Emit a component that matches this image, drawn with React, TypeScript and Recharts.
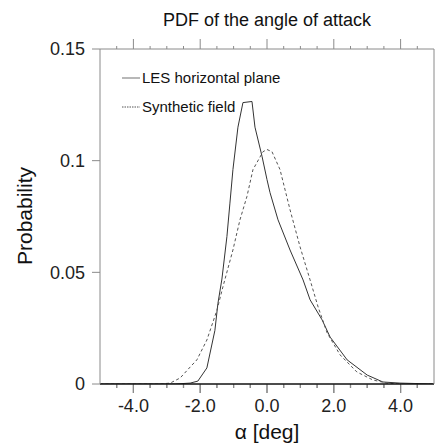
import React from 'react';
import { LineChart, Line, XAxis, YAxis, Legend, ReferenceLine } from 'recharts';

const lesAlpha = [-5, -3.5, -2.75, -2.3, -2.07, -1.8, -1.56, -1.47, -1.35, -1.2, -1.11, -1.02, -0.87, -0.72, -0.45, -0.36, -0.15, 0, 0.09, 0.33, 0.69, 1.08, 1.29, 1.65, 1.89, 2.4, 3.0, 3.47, 3.98, 5];
const lesPdf = [0, 0, 0, 0.0004, 0.0013, 0.0072, 0.024, 0.036, 0.047, 0.066, 0.081, 0.096, 0.115, 0.126, 0.1265, 0.115, 0.102, 0.0915, 0.0857, 0.0735, 0.06, 0.0466, 0.0377, 0.0287, 0.021, 0.0108, 0.004, 0.0009, 0.0004, 0];

const synAlpha = [-5, -3.2, -2.9, -2.6, -2.3, -2.1, -1.8, -1.5, -1.32, -1.02, -0.81, -0.6, -0.42, -0.12, 0, 0.15, 0.39, 0.69, 0.99, 1.29, 1.53, 1.8, 2.19, 2.69, 3.17, 3.59, 4, 5];
const synPdf = [0, 0, 0.0004, 0.0027, 0.0076, 0.0108, 0.0197, 0.033, 0.0435, 0.06, 0.0735, 0.084, 0.096, 0.104, 0.105, 0.104, 0.096, 0.078, 0.0614, 0.0466, 0.0345, 0.0229, 0.013, 0.0054, 0.0018, 0.0004, 0, 0];

const xMajorTicks = [-4, -2, 0, 2, 4];
const xAllTicks = [-4.5, -4, -3.5, -3, -2.5, -2, -1.5, -1, -0.5, 0, 0.5, 1, 1.5, 2, 2.5, 3, 3.5, 4, 4.5];
const yTicks = [0, 0.05, 0.1, 0.15];

const seriesNames = ['LES horizontal plane', 'Synthetic field'];
const title = 'PDF of the angle of attack';
const xLabel = 'α [deg]';
const yLabel = 'Probability';

const lesData = lesAlpha.map((a, i) => ({ a, p: lesPdf[i] }));
const synData = synAlpha.map((a, i) => ({ a, p: synPdf[i] }));

const FONT = '"Liberation Sans", Arial, Helvetica, sans-serif';
const AXIS_GRAY = '#8a8a8a';

const isMajor = (v: number) => xMajorTicks.includes(v);

const PLOT_TOP = 49;
const PLOT_BOTTOM = 384;

const BottomTick = (props: any) => {
  const { x, y, payload } = props;
  const v = Number(payload.value);
  if (!isMajor(v)) return <g />;
  return (
    <text x={x} y={y - 8 + 15} dy="0.71em" textAnchor="middle" fill="#222" fontSize={18} fontFamily={FONT}>
      {v.toFixed(1)}
    </text>
  );
};

const FrameTicks = (props: any) => {
  const { x, y, payload } = props;
  const v = Number(payload.value);
  const major = isMajor(v);
  const topY = y + 8;
  return (
    <g>
      <path d={`M${x},${topY}V${topY - (major ? 10 : 3)}`} stroke={AXIS_GRAY} strokeWidth={1} fill="none" />
      <path d={`M${x},${PLOT_BOTTOM + 1}V${PLOT_BOTTOM + (major ? 9 : 4)}`} stroke={AXIS_GRAY} strokeWidth={1.2} fill="none" />
    </g>
  );
};

const LegendContent = () => (
  <div style={{ fontFamily: FONT, fontSize: 15, color: '#111' }}>
    <div style={{ display: 'flex', alignItems: 'center', height: 29 }}>
      <svg width={20} height={10}><line x1={1} y1={5} x2={19} y2={5} stroke="#888" strokeWidth={1.2} /></svg>
      <span style={{ marginLeft: 1 }}>{seriesNames[0]}</span>
    </div>
    <div style={{ display: 'flex', alignItems: 'center', height: 29 }}>
      <svg width={20} height={10}><line x1={1} y1={5} x2={19} y2={5} stroke="#555" strokeWidth={1} strokeDasharray="1.5 1" /></svg>
      <span style={{ marginLeft: 1 }}>{seriesNames[1]}</span>
    </div>
  </div>
);

export default function App() {
  return (
    <div style={{ position: 'absolute', left: 0, top: 0, width: 436, height: 448, background: '#fff', fontFamily: FONT }}>
      <div style={{ position: 'absolute', left: 100, top: 10, width: 334, textAlign: 'center', fontSize: 18, lineHeight: '20px', color: '#111' }}>{title}</div>
      <div style={{ position: 'absolute', left: 267 - 60, top: 420, width: 120, textAlign: 'center', fontSize: 21, lineHeight: '24px', color: '#111' }}>{xLabel}</div>
      <div style={{ position: 'absolute', left: 25 - 60, top: 216 - 12, width: 120, height: 24, textAlign: 'center', fontSize: 21, lineHeight: '24px', color: '#111', transform: 'rotate(-90deg)' }}>{yLabel}</div>
      <LineChart width={436} height={448} margin={{ top: PLOT_TOP - 20, right: 0, left: 0, bottom: 0 }}>
        <XAxis xAxisId={0} dataKey="a" type="number" domain={[-5, 5]} ticks={xAllTicks} allowDataOverflow
          height={448 - PLOT_BOTTOM} tickLine={false}
          axisLine={{ stroke: '#111', strokeWidth: 1.5 }}
          tick={BottomTick} interval={0} />
        <XAxis xAxisId="top" orientation="top" dataKey="a" type="number" domain={[-5, 5]} ticks={xAllTicks} allowDataOverflow
          height={20} tickLine={false} axisLine={{ stroke: AXIS_GRAY }}
          tick={FrameTicks} interval={0} />
        <YAxis type="number" domain={[0, 0.15]} ticks={yTicks} allowDataOverflow width={100}
          tickFormatter={(v: number) => String(v)} tickSize={8} tickMargin={7}
          axisLine={{ stroke: AXIS_GRAY }} tickLine={{ stroke: AXIS_GRAY }}
          tick={{ fill: '#222', fontSize: 18, fontFamily: FONT }} interval={0} />
        <YAxis yAxisId="right" orientation="right" type="number" domain={[0, 0.15]} allowDataOverflow width={2}
          tick={false} tickLine={false} axisLine={{ stroke: AXIS_GRAY }} />
        {xAllTicks.map((v) => (
          <ReferenceLine key={`bt${v}`} ifOverflow="visible" stroke={AXIS_GRAY} strokeWidth={1.2}
            segment={[{ x: v, y: 0 }, { x: v, y: isMajor(v) ? -0.004 : -0.0018 }]} />
        ))}
        <Legend layout="vertical" align="center" verticalAlign="middle" content={LegendContent}
          wrapperStyle={{ position: 'absolute', left: 121, top: 63, width: 'auto' }} />
        <Line data={lesData} dataKey="p" name={seriesNames[0]} type="linear" stroke="#333" strokeWidth={1} dot={false} isAnimationActive={false} />
        <Line data={synData} dataKey="p" name={seriesNames[1]} type="linear" stroke="#555" strokeWidth={1} strokeDasharray="3 2.5" dot={false} isAnimationActive={false} />
      </LineChart>
    </div>
  );
}
